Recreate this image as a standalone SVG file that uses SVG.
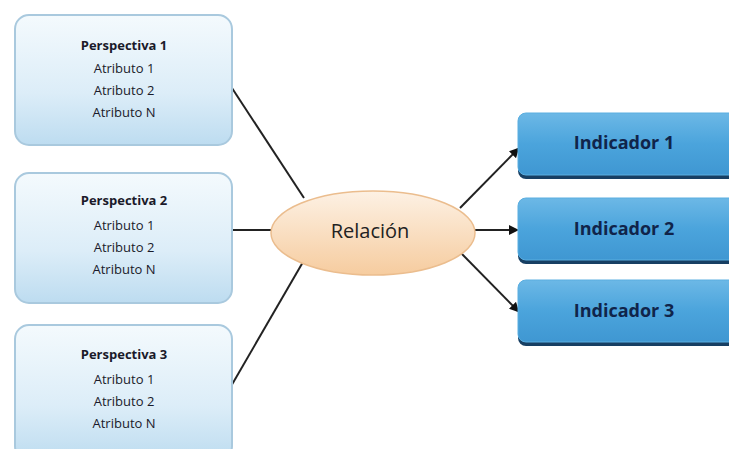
<svg xmlns="http://www.w3.org/2000/svg" width="729" height="449" viewBox="0 0 729 449">
<defs>
<linearGradient id="gP" x1="0" y1="0" x2="0" y2="1">
<stop offset="0" stop-color="#f4fafd"/>
<stop offset="0.6" stop-color="#dcedf8"/>
<stop offset="1" stop-color="#bddcf0"/>
</linearGradient>
<linearGradient id="gI" x1="0" y1="0" x2="0" y2="1">
<stop offset="0" stop-color="#6cb8e6"/>
<stop offset="0.5" stop-color="#4ba4dc"/>
<stop offset="1" stop-color="#3f97d2"/>
</linearGradient>
<linearGradient id="gR" x1="0" y1="0" x2="0" y2="1">
<stop offset="0" stop-color="#fdf1e4"/>
<stop offset="1" stop-color="#f6cc9f"/>
</linearGradient>
<marker id="arr" markerWidth="10" markerHeight="10" refX="8" refY="5" orient="auto" markerUnits="userSpaceOnUse">
<path d="M0,0 L10,5 L0,10 Z" fill="#111"/>
</marker>
</defs>
<style>
.pbox{fill:url(#gP);stroke:#a9c9de;stroke-width:2}
.ibox{fill:url(#gI);stroke:#5aaee0;stroke-width:1}
.ishadow{fill:#173f63}
.pt{font-family:"Open Sans","Liberation Sans",sans-serif;font-size:13px;fill:#1a1a2a;text-anchor:middle}
.pb{font-weight:bold}
.it{font-family:"Open Sans","Liberation Sans",sans-serif;font-size:18px;font-weight:bold;fill:#10244a;text-anchor:middle}
.rt{font-family:"Open Sans","Liberation Sans",sans-serif;font-size:20px;fill:#222;text-anchor:middle}
.ln{stroke:#222;stroke-width:2;fill:none}
</style>
<rect width="729" height="449" fill="#ffffff"/>
<g id="connectors">
<line class="ln" x1="230" y1="85" x2="304" y2="198"/>
<line class="ln" x1="233" y1="230" x2="272" y2="230"/>
<line class="ln" x1="230" y1="388" x2="303" y2="262"/>
<line class="ln" x1="460" y1="208" x2="518" y2="149" marker-end="url(#arr)"/>
<line class="ln" x1="472" y1="230" x2="517" y2="230" marker-end="url(#arr)"/>
<line class="ln" x1="460" y1="252" x2="518" y2="311" marker-end="url(#arr)"/>
</g>
<g id="p1">
<rect class="pbox" x="15" y="15" width="217" height="130" rx="14"/>
<text class="pt pb" x="124" y="50">Perspectiva 1</text>
<text class="pt" x="124" y="73">Atributo 1</text>
<text class="pt" x="124" y="95">Atributo 2</text>
<text class="pt" x="124" y="117">Atributo N</text>
</g>
<g id="p2">
<rect class="pbox" x="15" y="173" width="217" height="130" rx="14"/>
<text class="pt pb" x="124" y="205">Perspectiva 2</text>
<text class="pt" x="124" y="230">Atributo 1</text>
<text class="pt" x="124" y="252">Atributo 2</text>
<text class="pt" x="124" y="274">Atributo N</text>
</g>
<g id="p3">
<rect class="pbox" x="15" y="325" width="217" height="135" rx="14"/>
<text class="pt pb" x="124" y="359">Perspectiva 3</text>
<text class="pt" x="124" y="384">Atributo 1</text>
<text class="pt" x="124" y="406">Atributo 2</text>
<text class="pt" x="124" y="428">Atributo N</text>
</g>
<g id="rel">
<ellipse cx="373" cy="233" rx="102" ry="42" fill="url(#gR)" stroke="#ebbd8e" stroke-width="1.5"/>
<text class="rt" x="370" y="238">Relación</text>
</g>
<g id="i1">
<rect class="ishadow" x="518" y="116" width="220" height="63" rx="8"/>
<rect class="ibox" x="518" y="113" width="220" height="62" rx="8"/>
<text class="it" x="624" y="149">Indicador 1</text>
</g>
<g id="i2">
<rect class="ishadow" x="518" y="201" width="220" height="63" rx="8"/>
<rect class="ibox" x="518" y="198" width="220" height="62" rx="8"/>
<text class="it" x="624" y="235">Indicador 2</text>
</g>
<g id="i3">
<rect class="ishadow" x="518" y="283" width="220" height="63" rx="8"/>
<rect class="ibox" x="518" y="280" width="220" height="62" rx="8"/>
<text class="it" x="624" y="317">Indicador 3</text>
</g>
</svg>
